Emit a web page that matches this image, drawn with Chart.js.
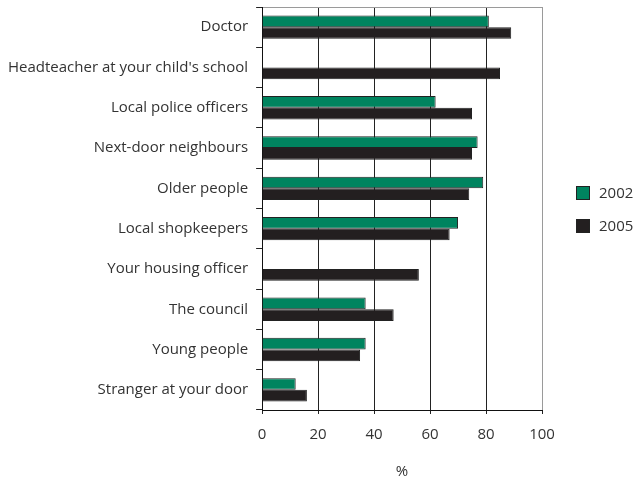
<!DOCTYPE html>
<html>
<head>
<meta charset="utf-8">
<script src="https://cdn.jsdelivr.net/npm/chart.js@4/dist/chart.umd.min.js"></script>
<style>
  html, body { margin: 0; padding: 0; background: #fff; }
  #wrap { position: relative; width: 636px; height: 479px; }
  #legend { position: absolute; left: 576px; top: 186px; font-family: "Open Sans", sans-serif; font-size: 15px; color: #333; }
  .item { position: relative; height: 33px; }
  .box { position: absolute; left: 0; top: 0; width: 12px; height: 12px; border: 1px solid #222; }
  .lbl { position: absolute; left: 23px; top: -4px; line-height: 20px; }
</style>
</head>
<body>
<div id="wrap">
  <canvas id="c" width="636" height="479"></canvas>
  <div id="legend"></div>
</div>
<script>
const categories = ["Doctor", "Headteacher at your child's school", "Local police officers", "Next-door neighbours", "Older people", "Local shopkeepers", "Your housing officer", "The council", "Young people", "Stranger at your door"];
const values2002 = [81, null, 62, 77, 79, 70, null, 37, 37, 12];
const values2005 = [89, 85, 75, 75, 74, 67, 56, 47, 35, 16];
const seriesNames = ["2002", "2005"];
const xTicks = [0, 20, 40, 60, 80, 100];
const colors = ["#00845f", "#231f20"];

const fontFamily = '"Open Sans", sans-serif';

const legendEl = document.getElementById('legend');
seriesNames.forEach((n, i) => {
  const d = document.createElement('div');
  d.className = 'item';
  d.innerHTML = '<span class="box" style="background:' + colors[i] + '"></span><span class="lbl">' + n + '</span>';
  legendEl.appendChild(d);
});

new Chart(document.getElementById('c'), {
  type: 'bar',
  data: {
    labels: categories,
    datasets: [
      { label: seriesNames[0], data: values2002, backgroundColor: colors[0], borderColor: '#222', borderWidth: 1 },
      { label: seriesNames[1], data: values2005, backgroundColor: colors[1], borderColor: '#222', borderWidth: 1 }
    ]
  },
  options: {
    indexAxis: 'y',
    responsive: false,
    animation: false,
    devicePixelRatio: 1,
    categoryPercentage: 0.58,
    barPercentage: 1,
    layout: { padding: { top: 7, right: 94, bottom: -2, left: 0 } },
    plugins: { legend: { display: false }, tooltip: { enabled: false } },
    scales: {
      x: {
        min: 0, max: 100,
        afterBuildTicks: (s) => { s.ticks = xTicks.map(v => ({ value: v })); },
        grid: {
          color: (ctx) => (ctx.tick && ctx.tick.value === 100) ? '#9a9a9a' : '#222',
          tickColor: '#222',
          tickLength: 4,
          lineWidth: 1
        },
        border: { color: '#111', width: 1 },
        ticks: { color: '#333', font: { family: fontFamily, size: 15 }, padding: 12 },
        title: { display: true, text: '%', color: '#333', font: { family: fontFamily, size: 15 }, padding: { top: 7, bottom: 0 } }
      },
      y: {
        afterFit: (s) => { s.paddingTop = 0; s.paddingBottom = 0; },
        grid: {
          offset: true,
          drawOnChartArea: true,
          color: (ctx) => ctx.index === 0 ? '#9a9a9a' : 'rgba(0,0,0,0)',
          tickColor: '#222',
          tickLength: 6
        },
        border: { color: '#111', width: 1 },
        ticks: { color: '#333', font: { family: fontFamily, size: 15 }, padding: 8 }
      }
    }
  }
});
</script>
</body>
</html>
